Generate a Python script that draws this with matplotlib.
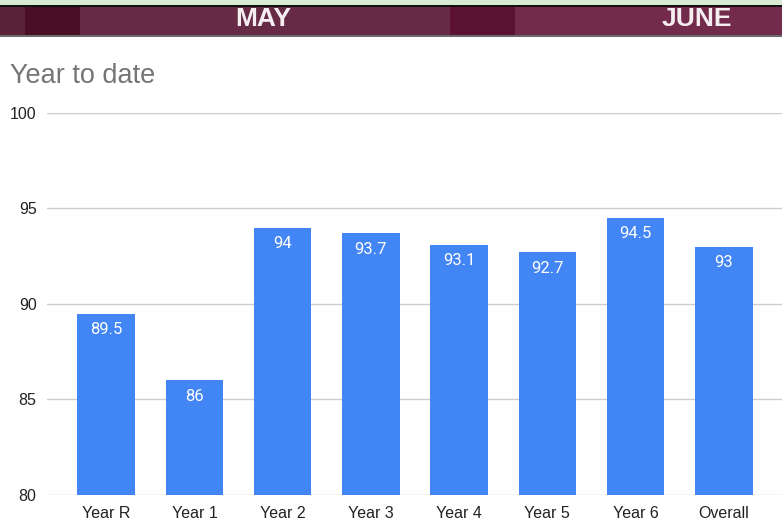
import matplotlib
matplotlib.use("Agg")
import matplotlib.pyplot as plt
from matplotlib.patches import Rectangle

categories = ["Year R", "Year 1", "Year 2", "Year 3", "Year 4", "Year 5", "Year 6", "Overall"]
values = [89.5, 86, 94, 93.7, 93.1, 92.7, 94.5, 93]
yticks = [80, 85, 90, 95, 100]
title = "Year to date"
banner_labels = ["MAY", "JUNE"]

plt.rcParams["font.family"] = ["Liberation Sans", "DejaVu Sans"]

W, H = 782, 521
fig = plt.figure(figsize=(W/100, H/100), dpi=100)
fig.patch.set_facecolor("white")

def px(x0, y0, w, h, color):
    fig.patches.append(Rectangle((x0/W, 1-(y0+h)/H), w/W, h/H, transform=fig.transFigure,
                                 facecolor=color, edgecolor="none", zorder=0))

# banner
px(0, 0, W, 5, "#d9ead3")
px(0, 5, W, 2, "#111111")
segs = [(0, 25, "#5c2338"), (25, 80, "#4a0f24"), (80, 450, "#672a44"),
        (450, 515, "#5a1230"), (515, 782, "#722b4a")]
for x0, x1, c in segs:
    px(x0, 7, x1-x0, 28, c)
px(0, 35, W, 2, "#6b6b6b")
for lab, cx in zip(banner_labels, [263, 697]):
    fig.text(cx/W, 1-19/H, lab, ha="center", va="center", color="#f4eef0",
             fontsize=19, fontweight="bold")

ax = fig.add_axes([47/W, 1-495/H, (783-47)/W, (495-113)/H])
x = list(range(len(categories)))
bars = ax.bar(x, values, width=0.65, color="#4285F4", zorder=3)
ax.set_ylim(80, 100)
ax.set_xlim(-0.67, 7.67)
ax.set_yticks(yticks)
ax.set_yticklabels([str(t) for t in yticks])
ax.set_xticks(x)
ax.set_xticklabels(categories)
ax.grid(axis="y", color="#cccccc", linewidth=1, zorder=0)
for s in ax.spines.values():
    s.set_visible(False)
ax.tick_params(axis="both", length=0, labelsize=11.5, colors="#222222")
ax.tick_params(axis="y", pad=7.5)
ax.tick_params(axis="x", pad=8)

for xi, v in zip(x, values):
    ax.annotate(f"{v:g}", (xi, v), xytext=(0, -6), textcoords="offset points",
                ha="center", va="top", color="white", fontsize=12,
                family=["Roboto", "DejaVu Sans"], zorder=4)

fig.text(10/W, 1-76/H, title, ha="left", va="center", color="#757575", fontsize=19.5)

fig.savefig("out.png", dpi=100)
